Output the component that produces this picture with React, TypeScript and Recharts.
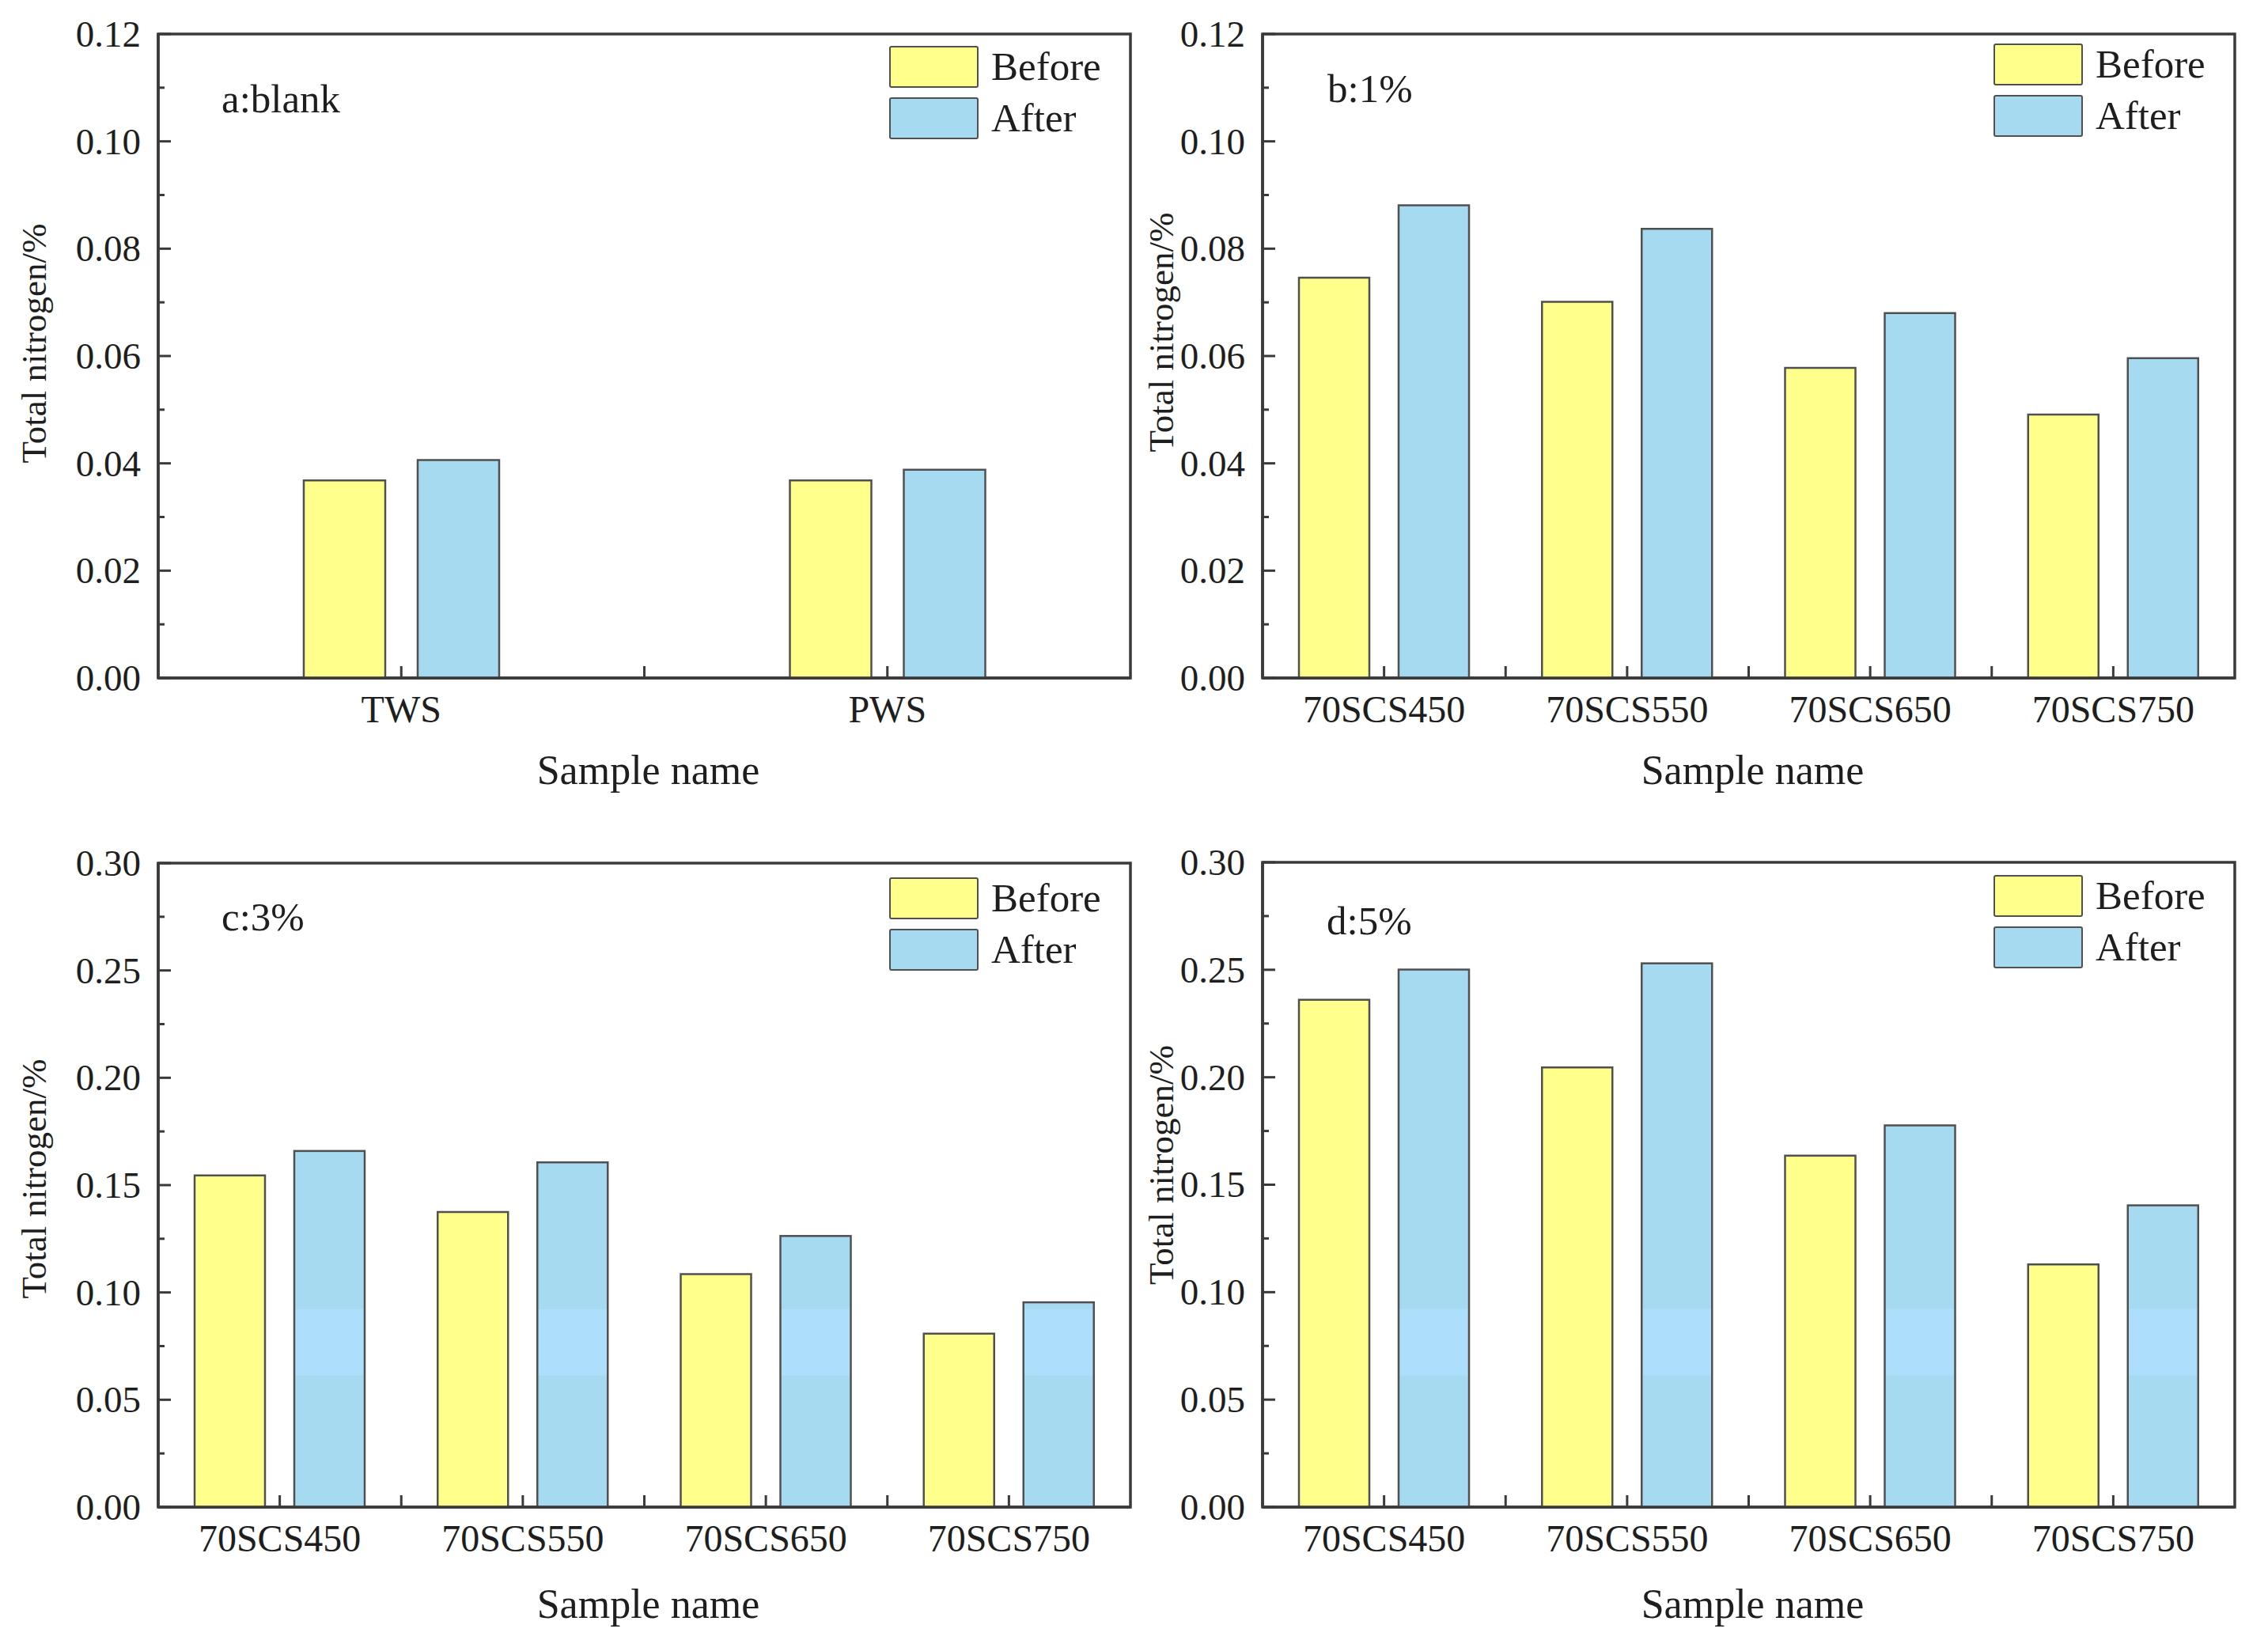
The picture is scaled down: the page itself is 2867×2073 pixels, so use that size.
import { Bar, BarChart, Legend, ReferenceArea, XAxis, YAxis } from 'recharts'

const FONT = '"Liberation Serif", "Times New Roman", Times, serif'
const INK = '#1e1e1e'
const AXIS = '#3a3a3a'
const EDGE = '#505050'
const YELLOW = '#FFFF8C'
const BLUE = '#A6DAF0'
const STRIPE_BLUE = '#ADDEFB'
// scan artefact: lighter band inside the blue bars of panels c and d (value range)
const STRIPE = [0.0612, 0.0922]
const LEGEND_ORDER = ['Before', 'After']

const blankSamples = ['TWS', 'PWS']
const blankBefore = [0.0368, 0.0368]
const blankAfter = [0.0406, 0.0388]

const scsSamples = ['70SCS450', '70SCS550', '70SCS650', '70SCS750']
const before1 = [0.0746, 0.0701, 0.0578, 0.0491]
const after1 = [0.0881, 0.0837, 0.068, 0.0596]
const before3 = [0.1545, 0.1375, 0.1085, 0.0808]
const after3 = [0.1659, 0.1606, 0.1263, 0.0954]
const before5 = [0.236, 0.2046, 0.1635, 0.1129]
const after5 = [0.2501, 0.253, 0.1776, 0.1404]

const lowTicks = [0, 0.01, 0.02, 0.03, 0.04, 0.05, 0.06, 0.07, 0.08, 0.09, 0.1, 0.11, 0.12]
const highTicks = [0, 0.025, 0.05, 0.075, 0.1, 0.125, 0.15, 0.175, 0.2, 0.225, 0.25, 0.275, 0.3]

type Row = { name: string; before: number; after: number }

const buildRows = (names: string[], before: number[], after: number[]): Row[] =>
  names.map((name, i) => ({ name, before: before[i], after: after[i] }))

interface PanelSpec {
  tag: string
  rows: Row[]
  yTicks: number[]
  left: number
  top: number
  width: number
  height: number
  plotLeft: number
  plotTop: number
  plotRight: number
  plotBottom: number
  barSize: number
  barGap: number
  striped: boolean
  yLabelX: number
  yLabelShift: number
  tagDx: number
  tagDy: number
  legendDy: number
  titleGap: number
}

const panels: PanelSpec[] = [
  {
    tag: 'a:blank', rows: buildRows(blankSamples, blankBefore, blankAfter), yTicks: lowTicks,
    left: 0, top: 0, width: 1434, height: 1036,
    plotLeft: 200, plotTop: 43, plotRight: 1429, plotBottom: 857,
    barSize: 103, barGap: 41, striped: false,
    yLabelX: 42, yLabelShift: -16, tagDx: 80, tagDy: 99, legendDy: 15, titleGap: 134,
  },
  {
    tag: 'b:1%', rows: buildRows(scsSamples, before1, after1), yTicks: lowTicks,
    left: 1434, top: 0, width: 1433, height: 1036,
    plotLeft: 162, plotTop: 43, plotRight: 1391, plotBottom: 857,
    barSize: 89, barGap: 37, striped: false,
    yLabelX: 33, yLabelShift: -30, tagDx: 82, tagDy: 86, legendDy: 12, titleGap: 134,
  },
  {
    tag: 'c:3%', rows: buildRows(scsSamples, before3, after3), yTicks: highTicks,
    left: 0, top: 1036, width: 1434, height: 1037,
    plotLeft: 200, plotTop: 55, plotRight: 1429, plotBottom: 869,
    barSize: 89, barGap: 37, striped: true,
    yLabelX: 42, yLabelShift: -8, tagDx: 80, tagDy: 85, legendDy: 18, titleGap: 140,
  },
  {
    tag: 'd:5%', rows: buildRows(scsSamples, before5, after5), yTicks: highTicks,
    left: 1434, top: 1036, width: 1433, height: 1037,
    plotLeft: 162, plotTop: 54, plotRight: 1391, plotBottom: 869,
    barSize: 89, barGap: 37, striped: true,
    yLabelX: 33, yLabelShift: -25, tagDx: 81, tagDy: 91, legendDy: 16, titleGap: 140,
  },
]

function renderYTick(props: any) {
  const { x, y, payload, index } = props
  const major = index % 2 === 0
  return (
    <g>
      <line x1={x} x2={x + (major ? 16 : 8)} y1={y} y2={y} stroke={AXIS} strokeWidth={3} />
      {major && (
        <text x={x - 22} y={y} dy="0.34em" textAnchor="end" fontFamily={FONT} fontSize={47} fill={INK}>
          {Number(payload.value).toFixed(2)}
        </text>
      )}
    </g>
  )
}

function makeXTick(band: number) {
  return (props: any) => {
    const { x, y, payload, index } = props
    return (
      <g>
        <line x1={x} x2={x} y1={y} y2={y - 15} stroke={AXIS} strokeWidth={3} />
        {index > 0 && (
          <line x1={x - band / 2} x2={x - band / 2} y1={y} y2={y - 15} stroke={AXIS} strokeWidth={3} />
        )}
        <text x={x} y={y + 56} textAnchor="middle" fontFamily={FONT} fontSize={48} fill={INK}>
          {payload.value}
        </text>
      </g>
    )
  }
}

function StripedBar(props: any) {
  const { x, y, width, height, fill, payload } = props
  if (!height || height <= 0) return <g />
  const k = height / payload.after
  const base = y + height
  const sTop = Math.max(base - STRIPE[1] * k, y)
  const sBot = base - STRIPE[0] * k
  return (
    <g>
      <rect x={x} y={y} width={width} height={height} fill={fill} />
      {sBot > y && <rect x={x} y={sTop} width={width} height={sBot - sTop} fill={STRIPE_BLUE} />}
      <rect x={x} y={y} width={width} height={height} fill="none" stroke={EDGE} strokeWidth={2.5} />
    </g>
  )
}

function LegendBox(props: any) {
  const items = [...(props.payload || [])].sort(
    (a: any, b: any) => LEGEND_ORDER.indexOf(a.value) - LEGEND_ORDER.indexOf(b.value),
  )
  return (
    <div style={{ display: 'flex', flexDirection: 'column', gap: 12 }}>
      {items.map((entry: any) => (
        <div key={entry.value} style={{ display: 'flex', alignItems: 'center', height: 53 }}>
          <span
            style={{
              display: 'inline-block',
              width: 113,
              height: 53,
              boxSizing: 'border-box',
              border: `2.5px solid ${EDGE}`,
              borderRadius: 3,
              background: entry.color,
            }}
          />
          <span style={{ marginLeft: 16, fontFamily: FONT, fontSize: 51, color: INK, lineHeight: '53px' }}>
            {entry.value}
          </span>
        </div>
      ))}
    </div>
  )
}

function Panel({ spec }: { spec: PanelSpec }) {
  const plotW = spec.plotRight - spec.plotLeft
  const band = plotW / spec.rows.length
  const yMax = spec.yTicks[spec.yTicks.length - 1]
  const midY = (spec.plotTop + spec.plotBottom) / 2 + spec.yLabelShift
  const axisLine = { stroke: AXIS, strokeWidth: 3.5 }

  return (
    <div style={{ position: 'absolute', left: spec.left, top: spec.top }}>
      <BarChart
        width={spec.width}
        height={spec.height}
        data={spec.rows}
        margin={{ top: spec.plotTop, right: spec.width - spec.plotRight, bottom: 0, left: 0 }}
        barSize={spec.barSize}
        barGap={spec.barGap}
      >
        <XAxis
          dataKey="name"
          interval={0}
          height={spec.height - spec.plotBottom}
          axisLine={axisLine}
          tickLine={false}
          tickSize={0}
          tickMargin={0}
          tick={makeXTick(band)}
          label={() => (
            <text
              x={spec.plotLeft + plotW / 2 + 5}
              y={spec.plotBottom + spec.titleGap}
              textAnchor="middle"
              fontFamily={FONT}
              fontSize={52}
              fill={INK}
            >
              Sample name
            </text>
          )}
        />
        <YAxis
          width={spec.plotLeft}
          domain={[0, yMax]}
          ticks={spec.yTicks}
          interval={0}
          axisLine={axisLine}
          tickLine={false}
          tickSize={0}
          tickMargin={0}
          tick={renderYTick}
          label={() => (
            <g>
              <text
                transform={`translate(${spec.yLabelX}, ${midY}) rotate(-90)`}
                textAnchor="middle"
                dy="0.35em"
                fontFamily={FONT}
                fontSize={45}
                fill={INK}
              >
                Total nitrogen/%
              </text>
              <text
                x={spec.plotLeft + spec.tagDx}
                y={spec.plotTop + spec.tagDy}
                fontFamily={FONT}
                fontSize={51}
                fill={INK}
              >
                {spec.tag}
              </text>
            </g>
          )}
        />
        <ReferenceArea
          y1={0}
          y2={yMax}
          fill="none"
          stroke={AXIS}
          strokeWidth={3.5}
          ifOverflow="visible"
        />
        <Legend
          layout="vertical"
          align="center"
          verticalAlign="middle"
          content={LegendBox}
          wrapperStyle={{
            position: 'absolute',
            left: spec.plotRight - 305,
            top: spec.plotTop + spec.legendDy,
            width: 'auto',
            height: 'auto',
          }}
        />
        <Bar dataKey="before" name="Before" fill={YELLOW} stroke={EDGE} strokeWidth={2.5} isAnimationActive={false} />
        {spec.striped ? (
          <Bar dataKey="after" name="After" fill={BLUE} shape={StripedBar} isAnimationActive={false} />
        ) : (
          <Bar dataKey="after" name="After" fill={BLUE} stroke={EDGE} strokeWidth={2.5} isAnimationActive={false} />
        )}
      </BarChart>
    </div>
  )
}

export default function App() {
  return (
    <div style={{ position: 'relative', width: 2867, height: 2073, background: '#fff', fontFamily: FONT }}>
      <style>{'body { margin: 0; }'}</style>
      {panels.map((spec) => (
        <Panel key={spec.tag} spec={spec} />
      ))}
    </div>
  )
}
